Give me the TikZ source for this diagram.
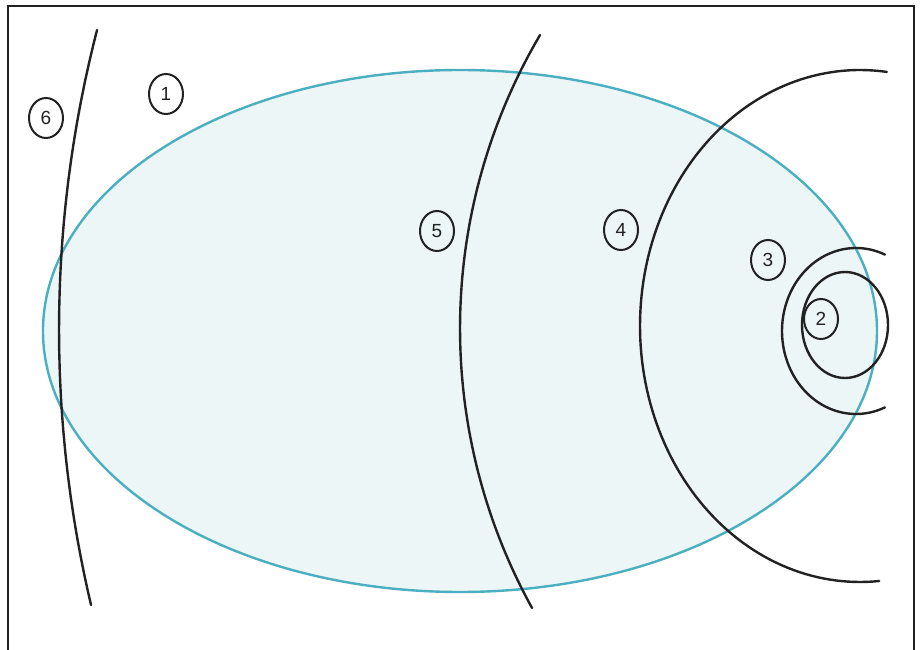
\documentclass[tikz,border=0pt]{standalone}
\usepackage{fontspec}
\setmainfont{Liberation Sans}
\usetikzlibrary{shapes.geometric}
\definecolor{efill}{HTML}{ECF6F6}
\definecolor{edraw}{HTML}{4AAFC0}
\definecolor{ink}{HTML}{222222}
\begin{document}
\begin{tikzpicture}[x=1pt,y=-1pt,
  curve/.style={draw=ink, line width=2.4pt, line cap=round},
  lbl/.style={draw=ink, line width=2pt, ellipse, minimum width=34pt, minimum height=40pt, inner sep=0pt, font=\fontsize{19}{19}\selectfont, text=ink}]
\useasboundingbox (0,0) rectangle (921,650);
\fill[white] (0,0) rectangle (921,650);
\draw[ink, line width=1.5pt] (8,652) -- (8,6) -- (914,6) -- (914,652);
% main ellipse
\draw[fill=efill, draw=edraw, line width=2.4pt] (460,331) ellipse [x radius=417, y radius=261];
% curve 6
\draw[curve] plot[domain=166.74:194.46, samples=80] ({1259.5+1200.5*cos(\x)},{329.7+1200.5*sin(\x)});
% curve 5
\draw[curve] plot[domain=151.1:210.49, samples=80] ({1038.4+578.4*cos(\x)},{328.5+578.4*sin(\x)});
% curve 4
\draw[curve] plot[domain=85:277, samples=120] ({860+220*cos(\x)},{326+256*sin(\x)});
% curve 3
\draw[curve] plot[domain=67:293, samples=100] ({856+74*cos(\x)},{331+83*sin(\x)});
% circle 2
\draw[curve] (845,325) ellipse [x radius=43, y radius=53];
% labels
\node[lbl] (l1) at (166,94) {1};
\node[lbl] (l2) at (821,319) {2};
\node[lbl] (l3) at (768,260) {3};
\node[lbl] (l4) at (621,230) {4};
\node[lbl] (l5) at (437,231) {5};
\node[lbl] (l6) at (46,118) {6};
\end{tikzpicture}
\end{document}
